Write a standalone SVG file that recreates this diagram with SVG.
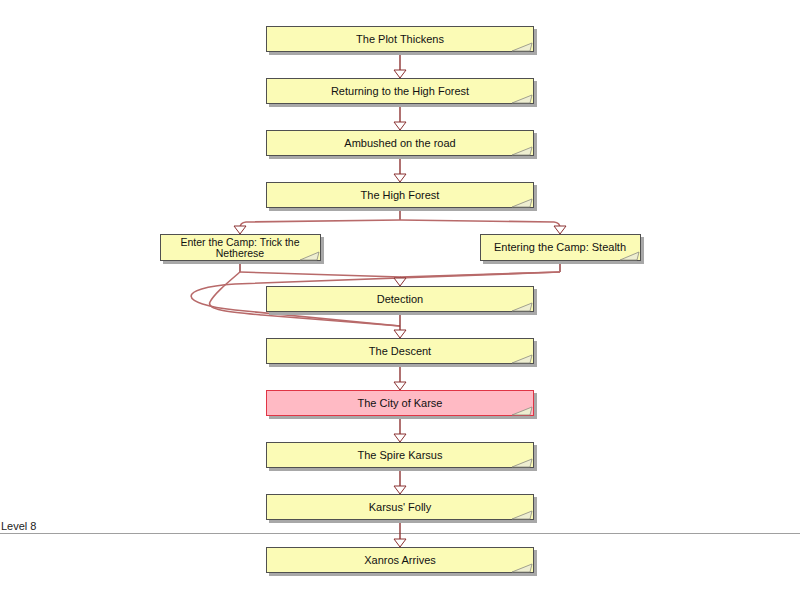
<svg xmlns="http://www.w3.org/2000/svg" width="800" height="600" viewBox="0 0 800 600">
<defs>
<style>
.shadow{fill:#a8a8a8}
.box{fill:#fbfbb6;stroke:#505050;stroke-width:1}
.hot{fill:#ffbac4;stroke:#e03545;stroke-width:1}
.curl{fill:#eeeed0;stroke:#8a8a80;stroke-width:0.8}
.lbl{font-family:"Liberation Sans",Arial,sans-serif;font-size:11px;fill:#111;text-anchor:middle}
.edge{fill:none;stroke:#8e3434;stroke-width:1.4}
.edge2{fill:none;stroke:#b86a6a;stroke-width:1.6}
.head{fill:#ffffff;stroke:#8a3030;stroke-width:1}
.lvl{font-family:"Liberation Sans",Arial,sans-serif;font-size:11px;fill:#222}
</style>
</defs>
<rect width="800" height="600" fill="#ffffff"/>

<g id="level8">
<line x1="0" y1="533.5" x2="800" y2="533.5" stroke="#a0a0a0" stroke-width="1.2"/>
<text class="lvl" x="1" y="530">Level 8</text>
</g>

<g id="connectors">
<path class="edge" d="M400,52 V78"/>
<path class="edge" d="M400,104 V130"/>
<path class="edge" d="M400,156 V182"/>
<path class="edge" d="M400,208 V220"/>
<path class="edge2" d="M400,220 L246,222 Q240,222.5 240,228 V234"/>
<path class="edge2" d="M400,220 L554,222 Q560,222.5 560,228 V234"/>
<path class="edge" d="M240,261 V272"/>
<path class="edge" d="M560,261 V272"/>
<path class="edge2" d="M240,272 L400,277 V286"/>
<path class="edge2" d="M560,272 L400,277"/>
<path class="edge2" d="M560,272 L235,284 C175,288 178,304 235,310 L400,326"/>
<path class="edge2" d="M240,272 C226,284 214,294 210,302 C206,310 230,312 262,315 L400,326"/>
<path class="edge" d="M400,312 V338"/>
<path class="edge" d="M400,364 V390"/>
<path class="edge" d="M400,416 V442"/>
<path class="edge" d="M400,468 V494"/>
<path class="edge" d="M400,520 V547"/>
<polygon class="head" points="394,70 406,70 400,78"/>
<polygon class="head" points="394,122 406,122 400,130"/>
<polygon class="head" points="394,174 406,174 400,182"/>
<polygon class="head" points="234,226 246,226 240,234"/>
<polygon class="head" points="554,226 566,226 560,234"/>
<polygon class="head" points="394,278 406,278 400,286"/>
<polygon class="head" points="394,330 406,330 400,338"/>
<polygon class="head" points="394,382 406,382 400,390"/>
<polygon class="head" points="394,434 406,434 400,442"/>
<polygon class="head" points="394,486 406,486 400,494"/>
<polygon class="head" points="394,539 406,539 400,547"/>
</g>

<g id="n1">
<rect class="shadow" x="269" y="29" width="268" height="26"/>
<rect class="box" x="266.5" y="26.5" width="267" height="25"/>
<path class="curl" d="M512,51 L532,43 L530,51 Z"/>
<text class="lbl" x="400" y="43">The Plot Thickens</text>
</g>
<g id="n2">
<rect class="shadow" x="269" y="81" width="268" height="26"/>
<rect class="box" x="266.5" y="78.5" width="267" height="25"/>
<path class="curl" d="M512,103 L532,95 L530,103 Z"/>
<text class="lbl" x="400" y="95">Returning to the High Forest</text>
</g>
<g id="n3">
<rect class="shadow" x="269" y="133" width="268" height="26"/>
<rect class="box" x="266.5" y="130.5" width="267" height="25"/>
<path class="curl" d="M512,155 L532,147 L530,155 Z"/>
<text class="lbl" x="400" y="147">Ambushed on the road</text>
</g>
<g id="n4">
<rect class="shadow" x="269" y="185" width="268" height="26"/>
<rect class="box" x="266.5" y="182.5" width="267" height="25"/>
<path class="curl" d="M512,207 L532,199 L530,207 Z"/>
<text class="lbl" x="400" y="199">The High Forest</text>
</g>
<g id="n5">
<rect class="shadow" x="163" y="237" width="161" height="27"/>
<rect class="box" x="160.5" y="234.5" width="160" height="26"/>
<path class="curl" d="M300,260 L319,252 L317,260 Z"/>
<text class="lbl" x="240" y="246" style="font-size:10.5px">Enter the Camp: Trick the</text>
<text class="lbl" x="240" y="257" style="font-size:10.5px">Netherese</text>
</g>
<g id="n6">
<rect class="shadow" x="483" y="237" width="161" height="27"/>
<rect class="box" x="480.5" y="234.5" width="160" height="26"/>
<path class="curl" d="M620,260 L639,252 L637,260 Z"/>
<text class="lbl" x="560" y="251">Entering the Camp: Stealth</text>
</g>
<g id="n7">
<rect class="shadow" x="269" y="289" width="268" height="26"/>
<rect class="box" x="266.5" y="286.5" width="267" height="25"/>
<path class="curl" d="M512,311 L532,303 L530,311 Z"/>
<text class="lbl" x="400" y="303">Detection</text>
</g>
<g id="n8">
<rect class="shadow" x="269" y="341" width="268" height="26"/>
<rect class="box" x="266.5" y="338.5" width="267" height="25"/>
<path class="curl" d="M512,363 L532,355 L530,363 Z"/>
<text class="lbl" x="400" y="355">The Descent</text>
</g>
<g id="n9">
<rect class="shadow" x="269" y="393" width="268" height="26"/>
<rect class="hot" x="266.5" y="390.5" width="267" height="25"/>
<path class="curl" d="M512,415 L532,407 L530,415 Z"/>
<text class="lbl" x="400" y="407">The City of Karse</text>
</g>
<g id="n10">
<rect class="shadow" x="269" y="445" width="268" height="26"/>
<rect class="box" x="266.5" y="442.5" width="267" height="25"/>
<path class="curl" d="M512,467 L532,459 L530,467 Z"/>
<text class="lbl" x="400" y="459">The Spire Karsus</text>
</g>
<g id="n11">
<rect class="shadow" x="269" y="497" width="268" height="26"/>
<rect class="box" x="266.5" y="494.5" width="267" height="25"/>
<path class="curl" d="M512,519 L532,511 L530,519 Z"/>
<text class="lbl" x="400" y="511">Karsus' Folly</text>
</g>
<g id="n12">
<rect class="shadow" x="269" y="550" width="268" height="26"/>
<rect class="box" x="266.5" y="547.5" width="267" height="25"/>
<path class="curl" d="M512,572 L532,564 L530,572 Z"/>
<text class="lbl" x="400" y="564">Xanros Arrives</text>
</g>
</svg>
